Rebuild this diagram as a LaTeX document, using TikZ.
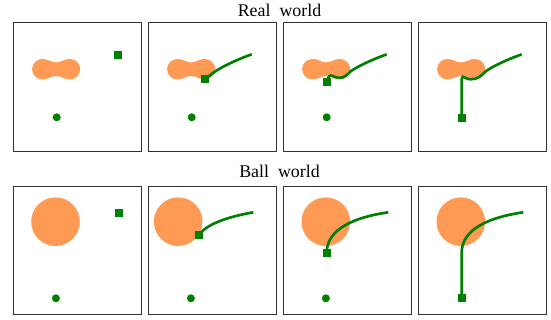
\documentclass[tikz,border=0pt]{standalone}
\usepackage{fontspec}
\setmainfont{Liberation Serif}
\usetikzlibrary{positioning}
\definecolor{wdBlob}{HTML}{FF9A55}
\definecolor{wdGreen}{HTML}{008000}
\definecolor{wdFrame}{HTML}{333333}
\tikzset{
  panel/.style={draw=wdFrame, line width=0.8pt, minimum size=96.4pt, inner sep=0pt, anchor=north west},
  agent/.style={fill=wdGreen, minimum size=6pt, inner sep=0pt},
  goal/.style={circle, fill=wdGreen, minimum size=6pt, inner sep=0pt},
  obstacle/.style={fill=wdBlob},
  traj/.style={wdGreen, line width=2pt},
  heading/.style={font=\fontsize{13.4}{16}\selectfont, anchor=base, inner sep=0pt}
}
% two-lobed obstacle of the real world, panel coordinates
\newcommand{\peanutpath}{(29.6,36.7) .. controls (24,36.7) and (19.4,41.3) .. (19.4,46.9)
  .. controls (19.4,52.5) and (24,57.1) .. (29.6,57.1)
  .. controls (36,57.1) and (38,53.7) .. (43.5,53.7)
  .. controls (49,53.7) and (51,57.1) .. (57.3,57.1)
  .. controls (62.9,57.1) and (67.5,52.5) .. (67.5,46.9)
  .. controls (67.5,41.3) and (62.9,36.7) .. (57.3,36.7)
  .. controls (51,36.7) and (49,40.1) .. (43.5,40.1)
  .. controls (38,40.1) and (36,36.7) .. (29.6,36.7) -- cycle}

\begin{document}
\begin{tikzpicture}[x=0.75pt, y=-0.75pt]
  \useasboundingbox (0,0) rectangle (551,320);
  \node[heading] (realt) at (279.5,16.7) {Real~ world};
  \node[heading] (ballt) at (279.5,178) {Ball~ world};
  \foreach \i/\x in {1/12.7, 2/147.7, 3/282.7, 4/417.7}{
    \node[panel] (r\i) at (\x,22.3) {};
    \node[panel] (b\i) at (\x,185.7) {};
    \fill[obstacle, shift={(\x,22.3)}] \peanutpath;
  }

  % real world
  \begin{scope}[shift={(12.7,22.3)}]
    \node[agent] (ra1) at (105.3,32.4) {};
    \node[goal] (rg1) at (44,95) {};
  \end{scope}
  \begin{scope}[shift={(147.7,22.3)}]
    \coordinate (rs2) at (104,32);
    \node[goal] (rg2) at (44,95) {};
    \node[agent] (ra2) at (57,56.7) {};
    \draw[traj] (rs2) .. controls (90,37) and (75,44) .. (67,49.5)
      .. controls (62,53) and (60,55) .. (ra2.center);
  \end{scope}
  \begin{scope}[shift={(282.7,22.3)}]
    \coordinate (rs3) at (104,32);
    \node[goal] (rg3) at (44,95) {};
    \node[agent] (ra3) at (44.3,59.7) {};
    \draw[traj] (rs3) .. controls (90,37) and (75,44) .. (68,49)
      .. controls (63,54) and (61,55.5) .. (56,55.5)
      .. controls (51,55.5) and (49,51.5) .. (46.5,54)
      .. controls (45,55.5) and (44.5,57.5) .. (ra3.center);
  \end{scope}
  \begin{scope}[shift={(417.7,22.3)}]
    \coordinate (rs4) at (104,32);
    \node[agent] (ra4) at (44,95.3) {};
    \draw[traj] (rs4) .. controls (90,37) and (75,44) .. (68,49)
      .. controls (63,54) and (60,57) .. (53,57)
      .. controls (48,57) and (47,54) .. (45,54.5)
      .. controls (44,55) and (44,57) .. (44,60) -- (ra4.center);
  \end{scope}

  % ball world
  \begin{scope}[shift={(12.7,185.7)}]
    \fill[obstacle] (42.8,36) circle[radius=24.3];
    \node[agent] (ba1) at (106.3,27.3) {};
    \node[goal] (bg1) at (43.2,112.6) {};
  \end{scope}
  \begin{scope}[shift={(147.7,185.7)}]
    \fill[obstacle] (30.5,36) circle[radius=24.3];
    \coordinate (bs2) at (105.6,26.6);
    \node[goal] (bg2) at (43.2,112.6) {};
    \node[agent] (ba2) at (51.3,49) {};
    \draw[traj] (ba2.center) .. controls (58,40) and (75,32) .. (bs2);
  \end{scope}
  \begin{scope}[shift={(282.7,185.7)}]
    \fill[obstacle] (43.1,36) circle[radius=24.3];
    \coordinate (bs3) at (105.6,26.6);
    \node[goal] (bg3) at (43.2,112.6) {};
    \node[agent] (ba3) at (44,67) {};
    \draw[traj] (ba3.center) .. controls (44,48) and (62,33) .. (bs3);
  \end{scope}
  \begin{scope}[shift={(417.7,185.7)}]
    \fill[obstacle] (43.1,36) circle[radius=24.3];
    \coordinate (bs4) at (105.6,26.6);
    \node[agent] (ba4) at (44,112.6) {};
    \draw[traj] (ba4.center) -- (44,67) .. controls (44,48) and (62,33) .. (bs4);
  \end{scope}
\end{tikzpicture}
\end{document}
